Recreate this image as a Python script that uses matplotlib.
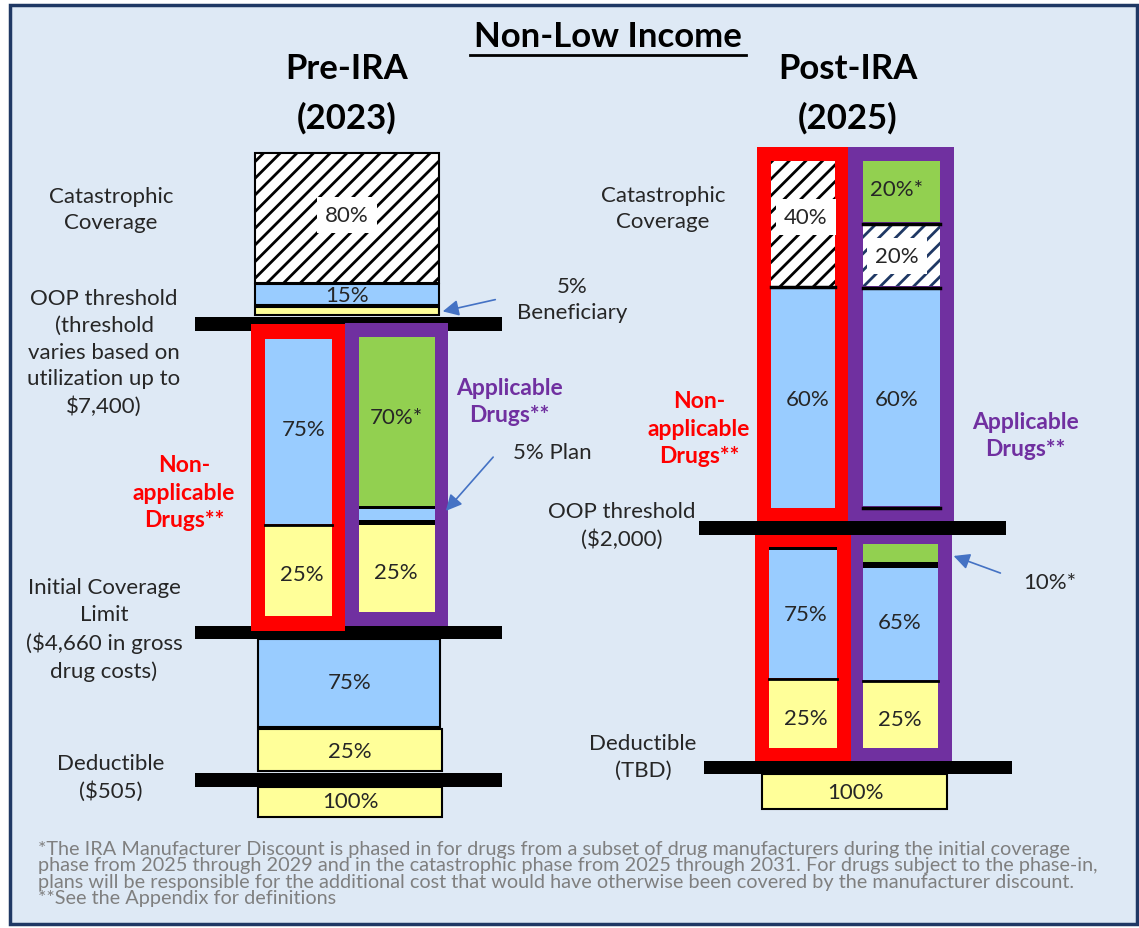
import matplotlib
matplotlib.use('Agg')
from matplotlib import pyplot as plt

plt.rcParams['font.family'] = ['Lato', 'DejaVu Sans']
plt.rcParams['hatch.linewidth'] = 2.0

# ---- chart content -------------------------------------------------------
title = 'Non-Low Income'
headers = ['Pre-IRA\n(2023)', 'Post-IRA\n(2025)']

pre_phases = ['Catastrophic\nCoverage',
              'OOP threshold\n(threshold\nvaries based on\nutilization up to\n$7,400)',
              'Initial Coverage\nLimit\n($4,660 in gross\ndrug costs)',
              'Deductible\n($505)']
post_phases = ['Catastrophic\nCoverage', 'OOP threshold\n($2,000)', 'Deductible\n(TBD)']

# shares shown in each block
pre_catastrophic = ['80%', '15%']            # medicare (hatched), plan
pre_gap_non_applicable = ['75%', '25%']      # plan, beneficiary
pre_gap_applicable = ['70%*', '25%']         # manufacturer, beneficiary
pre_initial = ['75%', '25%']
pre_deductible = ['100%']

post_cat_non_applicable = ['40%', '60%']     # medicare (hatched), plan
post_cat_applicable = ['20%*', '20%', '60%'] # manufacturer, medicare, plan
post_init_non_applicable = ['75%', '25%']
post_init_applicable = ['65%', '25%']
post_deductible = ['100%']

group_labels = ['Non-\napplicable\nDrugs**', 'Applicable\nDrugs**']
callouts = ['5%\nBeneficiary', '5% Plan', '10%*']

footnote = ('*The IRA Manufacturer Discount is phased in for drugs from a subset of drug manufacturers during the initial coverage\n'
            'phase from 2025 through 2029 and in the catastrophic phase from 2025 through 2031. For drugs subject to the phase-in,\n'
            'plans will be responsible for the additional cost that would have otherwise been covered by the manufacturer discount.\n'
            '**See the Appendix for definitions')

# ---- colours -------------------------------------------------------------
BG = '#dee9f5'
NAVY = '#1f3864'
BLUE = '#99ccff'
YELLOW = '#ffff99'
GREEN = '#92d050'
RED = '#ff0000'
PURPLE = '#7030a0'
TXT = '#262626'
ARROW = '#4472c4'

LBL = 16      # phase labels
PCT = 16      # percentages
GRP = 16.5    # drug group labels

fig = plt.figure(figsize=(11.39, 9.29), dpi=100)
ax = fig.add_axes([0, 0, 1, 1])
ax.set_xlim(0, 1139)
ax.set_ylim(929, 0)
ax.axis('off')


def box(x0, x1, y0, y1, fc, ec='black', lw=1.5, z=2):
    ax.bar(x0, y1 - y0, width=x1 - x0, bottom=y0, align='edge',
           color=fc, edgecolor=ec, linewidth=lw, zorder=z)


def hatched(x0, x1, y0, y1, hc, lw=1.5, z=2):
    ax.bar(x0, y1 - y0, width=x1 - x0, bottom=y0, align='edge',
           color='white', edgecolor=hc, hatch='//', linewidth=0, zorder=z)
    if lw:
        ax.bar(x0, y1 - y0, width=x1 - x0, bottom=y0, align='edge',
               fill=False, edgecolor='black', linewidth=lw, zorder=z + 0.1)


def label(x, y, s, size=PCT, white=False, **kw):
    bb = dict(facecolor='white', edgecolor='none', pad=6) if white else None
    ax.text(x, y, s, ha='center', va='center', fontsize=size, color=TXT,
            bbox=bb, zorder=6, **kw)


def phase(x, y, s):
    ax.text(x, y, s, ha='center', va='center', fontsize=LBL, color=TXT,
            linespacing=1.43)


def group(x, y, s, c):
    ax.text(x, y, s, ha='center', va='center', fontsize=GRP,
            fontweight='bold', color=c, linespacing=1.38)


def arrow(x0, y0, x1, y1):
    ax.annotate('', xy=(x1, y1), xytext=(x0, y0),
                arrowprops=dict(arrowstyle='-|>', color=ARROW, lw=1.2,
                                mutation_scale=24), zorder=7)


# background frame
box(10, 1137, 6, 925, BG, ec=NAVY, lw=2.5, z=0)

# title and headers
ax.text(608, 37, title, ha='center', va='center', fontsize=25,
        fontweight='bold', color='black', zorder=6)
ax.plot([470, 746], [56, 56], color='black', lw=2, zorder=6)
ax.text(347, 94, headers[0], ha='center', va='center', fontsize=25,
        fontweight='bold', linespacing=1.62, color='black')
ax.text(848, 94, headers[1], ha='center', va='center', fontsize=25,
        fontweight='bold', linespacing=1.62, color='black')

# ---------------- Pre-IRA ----------------
hatched(255, 439, 154, 284, 'black')
label(347, 216, pre_catastrophic[0], white=True)
box(255, 439, 285, 306, BLUE)
label(347, 296, pre_catastrophic[1])
box(255, 439, 308, 316, YELLOW)

box(195, 502, 318, 332, 'black', lw=0, z=1)
box(195, 502, 627, 640, 'black', lw=0, z=1)
box(195, 502, 774, 788, 'black', lw=0, z=1)

# coverage gap frames
box(251, 345, 325, 632, RED, lw=0, z=2)
box(345, 448, 324, 627, PURPLE, lw=0, z=2)
box(265, 332, 340, 525, BLUE, lw=0, z=3)
box(265, 332, 527, 617, YELLOW, lw=0, z=3)
ax.plot([265, 332], [526, 526], color='black', lw=2, zorder=4)
label(304, 430, pre_gap_non_applicable[0])
label(302, 575, pre_gap_non_applicable[1])

box(359, 435, 338, 507, GREEN, lw=0, z=3)
box(359, 435, 507, 526, 'black', lw=0, z=3)
box(359, 435, 510, 521, BLUE, lw=0, z=4)
box(359, 435, 526, 613, YELLOW, lw=0, z=3)
label(396, 418, pre_gap_applicable[0])
label(396, 573, pre_gap_applicable[1])

box(258, 440, 640, 728, BLUE)
label(350, 683, pre_initial[0])
box(258, 442, 730, 772, YELLOW)
label(350, 752, pre_initial[1])
box(258, 442, 788, 818, YELLOW)
label(350, 802, pre_deductible[0])

phase(111, 210, pre_phases[0])
phase(104, 353, pre_phases[1])
phase(104, 630, pre_phases[2])
phase(111, 778, pre_phases[3])

group(184, 493, group_labels[0], RED)
group(509, 402, group_labels[1], PURPLE)

ax.text(572, 300, callouts[0], ha='center', va='center', fontsize=LBL,
        color=TXT, linespacing=1.38)
arrow(498, 300, 440, 313)
ax.text(513, 453, callouts[1], ha='left', va='center', fontsize=LBL, color=TXT)
arrow(495, 456, 444, 514)

# ---------------- Post-IRA ----------------
box(757, 848, 148, 523, RED, lw=0, z=2)
box(848, 954, 148, 523, PURPLE, lw=0, z=2)
hatched(771, 835, 162, 288, 'black', lw=0)
ax.plot([771, 835], [288, 288], color='black', lw=2.5, zorder=4)
box(771, 835, 289, 509, BLUE, lw=0, z=3)
label(806, 218, post_cat_non_applicable[0], white=True)
label(808, 400, post_cat_non_applicable[1])

box(863, 940, 162, 223, GREEN, lw=0, z=3)
ax.plot([863, 940], [224.5, 224.5], color='black', lw=2.5, zorder=4)
hatched(863, 940, 226, 287, NAVY, lw=0)
ax.plot([863, 940], [288.5, 288.5], color='black', lw=2.5, zorder=4)
box(863, 940, 290, 507, BLUE, lw=0, z=3)
ax.plot([863, 940], [508.5, 508.5], color='black', lw=2.5, zorder=4)
label(897, 190, post_cat_applicable[0])
label(897, 257, post_cat_applicable[1], white=True)
label(897, 400, post_cat_applicable[2])

box(699, 1006, 522, 536, 'black', lw=0, z=5)

box(755, 851, 533, 763, RED, lw=0, z=2)
box(851, 952, 533, 763, PURPLE, lw=0, z=2)
box(769, 837, 548, 551, 'black', lw=0, z=3)
box(769, 837, 551, 679, BLUE, lw=0, z=3)
ax.plot([769, 837], [680, 680], color='black', lw=2, zorder=4)
box(769, 837, 681, 749, YELLOW, lw=0, z=3)
label(806, 615, post_init_non_applicable[0])
label(806, 719, post_init_non_applicable[1])

box(863, 938, 545, 563, GREEN, lw=0, z=3)
box(863, 938, 563, 569, 'black', lw=0, z=3)
box(863, 938, 569, 681, BLUE, lw=0, z=3)
ax.plot([863, 938], [682, 682], color='black', lw=2, zorder=4)
box(863, 938, 683, 749, YELLOW, lw=0, z=3)
label(900, 623, post_init_applicable[0])
label(900, 720, post_init_applicable[1])

box(704, 1012, 762, 775, 'black', lw=0, z=5)
box(762, 947, 775, 810, YELLOW, z=2)
label(855, 793, post_deductible[0])

phase(663, 209, post_phases[0])
phase(622, 526, post_phases[1])
phase(643, 757, post_phases[2])

group(699, 429, group_labels[0], RED)
group(1025, 436, group_labels[1], PURPLE)

ax.text(1050, 583, callouts[2], ha='center', va='center', fontsize=LBL, color=TXT)
arrow(1003, 575, 951, 556)

# footnote
ax.text(38, 874, footnote, ha='left', va='center', fontsize=14.3,
        color='#7f7f7f', linespacing=0.94)

fig.savefig('out.png', dpi=100, facecolor='white')
